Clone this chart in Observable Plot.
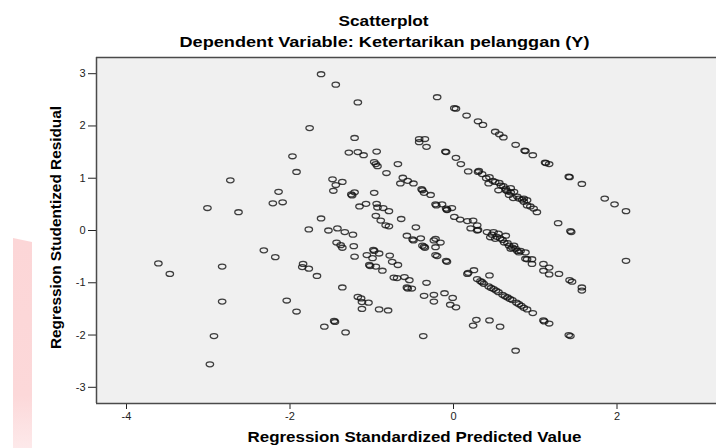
<!DOCTYPE html>
<html>
<head>
<meta charset="utf-8">
<script src="https://cdn.jsdelivr.net/npm/d3@7"></script>
<script src="https://cdn.jsdelivr.net/npm/@observablehq/plot@0.6"></script>
<style>
  html, body { margin: 0; padding: 0; background: #fff; overflow: hidden; }
  #wrap { position: relative; width: 716px; height: 448px; }
  #pink { position: absolute; left: 13px; top: 238px; width: 19px; height: 210px;
          background: linear-gradient(to bottom, #fcd6d7 0%, #fcd8d9 75%, #fde9ea 100%);
          clip-path: polygon(0 0, 100% 4px, 100% 100%, 0 100%); }
  #chart { position: absolute; left: 0; top: 0; }
</style>
</head>
<body>
<div id="wrap"><div id="pink"></div><div id="chart"></div></div>
<script>
const title = "Scatterplot";
const subtitle = "Dependent Variable: Ketertarikan pelanggan (Y)";
const xLabel = "Regression Standardized Predicted Value";
const yLabel = "Regression Studentized Residual";
const xTicks = [-4, -2, 0, 2];
const yTicks = [-3, -2, -1, 0, 1, 2, 3];
const xDomain = [-4.367, 3.217];
const yDomain = [-3.31, 3.31];

const predicted = [
 -3.61,-3.47,-3.01,-2.73,-2.63,-2.83,-2.83,-2.93,-2.98,-2.32,-2.18,-2.21,-2.09,-2.14,-1.97,-1.92,-1.76,-1.77,-1.84,-1.85,
 -1.77,-2.04,-1.92,-1.62,-1.44,-1.17,-0.20,0.01,0.03,0.16,0.30,0.36,0.51,0.56,0.61,0.76,-1.21,-1.28,-1.17,-1.10,
 -0.94,-0.97,-0.93,-0.95,-0.82,-0.68,-0.42,-0.42,-0.35,-0.33,-0.10,-0.09,0.03,0.09,0.18,0.31,0.30,0.35,0.44,0.43,
 0.56,0.61,0.66,0.73,0.80,-1.48,-1.44,-1.36,-1.47,-1.25,-1.24,-1.21,-0.97,-1.15,-1.07,-0.94,-0.93,-0.86,-0.79,-0.95,
 -0.89,-0.83,-0.79,-0.64,-0.46,-0.62,-0.65,-0.56,-0.49,-0.39,-0.38,-0.36,-0.28,-0.22,-0.21,-0.14,-0.09,-0.08,-0.02,0.01,
 0.08,0.17,0.24,0.29,0.30,0.41,0.49,-1.62,-1.53,-1.42,-1.33,-1.23,-0.57,-1.43,-1.38,-1.36,-1.22,-1.21,-1.67,-1.36,
 -1.17,-1.13,-1.12,-1.04,-1.12,-0.91,-0.80,-1.46,-1.45,-1.58,-1.32,-0.98,-0.97,-1.06,-0.99,-0.91,-0.78,-0.75,-0.68,-1.02,
 -1.03,-0.95,-0.87,-0.73,-0.69,-0.60,-0.54,-0.56,-0.57,-0.51,-0.33,-0.36,-0.24,-0.24,-0.11,-0.01,-0.04,0.03,-0.37,-0.49,
 -0.50,-0.40,-0.35,-0.36,-0.38,-0.24,-0.22,-0.16,-0.22,-0.22,-0.20,-0.09,-0.08,0.21,0.29,0.45,0.51,0.57,0.62,0.68,
 0.74,0.70,0.78,0.88,0.90,0.96,0.96,1.10,1.17,1.10,1.17,1.29,1.42,1.45,1.57,1.57,0.55,0.64,0.82,0.88,
 0.51,0.55,0.70,0.68,0.86,0.90,0.98,1.02,0.90,0.74,0.64,0.87,0.88,0.97,1.12,1.13,1.17,1.41,1.42,1.57,
 1.85,1.97,2.11,1.28,1.43,1.44,2.11,-0.08,0.17,0.18,0.25,0.44,0.29,0.33,0.37,0.43,0.49,0.55,0.60,0.66,
 0.72,0.77,0.83,0.90,0.97,1.10,1.11,1.17,1.41,1.43,0.28,0.24,0.44,0.57,0.76,0.70,0.86,0.47,0.53,0.60,
 0.66,0.72,0.76,0.80,0.35,0.46,0.52,0.63,0.69,0.80,0.86,0.40,0.48,0.58,0.64,0.78,0.84,0.94
];
const residual = [
 -0.63,-0.83,0.43,0.96,0.35,-0.69,-1.36,-2.02,-2.56,-0.38,-0.51,0.52,0.54,0.74,1.42,1.12,1.96,0.02,-0.64,-0.70,
 -0.73,-1.34,-1.55,2.99,2.79,2.45,2.55,2.34,2.33,2.20,2.09,2.02,1.89,1.84,1.78,1.64,1.77,1.49,1.50,1.44,
 1.51,1.31,1.23,1.27,1.10,1.27,1.75,1.69,1.75,1.60,1.51,1.50,1.39,1.27,1.13,1.14,1.12,1.08,1.02,0.90,
 0.91,0.85,0.75,0.62,0.61,0.98,0.87,0.93,0.76,0.69,0.67,0.73,0.72,0.46,0.51,0.51,0.44,0.43,0.37,0.28,
 0.19,0.10,0.08,0.22,0.06,1.01,0.90,0.95,0.90,0.79,0.77,0.72,0.68,0.50,0.48,0.50,0.42,0.40,0.43,0.26,
 0.21,0.18,0.19,0.10,0.01,-0.03,-0.03,0.23,0.00,0.04,-0.03,-0.08,-0.10,-0.23,-0.28,-0.33,-0.30,-0.50,-0.87,-1.09,
 -1.27,-1.30,-1.37,-1.38,-1.50,-1.51,-1.53,-1.73,-1.75,-1.84,-1.95,-0.37,-0.39,-0.47,-0.53,-0.44,-0.48,-0.60,-0.66,-0.68,
 -0.66,-0.69,-0.77,-0.90,-0.91,-0.89,-0.95,-1.11,-1.09,-1.11,-1.00,-1.25,-1.23,-1.36,-1.20,-1.29,-1.42,-1.47,-2.02,-0.19,
 -0.17,-0.15,-0.33,-0.31,-0.29,-0.19,-0.16,-0.23,-0.32,-0.47,-0.49,-0.58,-0.60,0.04,0.00,-0.13,-0.16,-0.15,-0.23,-0.29,
 -0.29,-0.35,-0.39,-0.42,-0.55,-0.55,-0.64,-0.64,-0.71,-0.77,-0.84,-0.83,-0.95,-0.98,-1.09,-1.15,-0.06,-0.10,-0.39,-0.54,
 0.93,0.77,0.81,0.68,0.55,0.48,0.42,0.35,0.58,0.74,0.77,1.53,1.52,1.44,1.30,1.29,1.27,1.03,1.02,0.89,
 0.61,0.50,0.37,0.14,-0.01,-0.03,-0.58,0.39,-0.83,-0.81,-0.76,-0.86,-0.93,-0.97,-1.02,-1.07,-1.12,-1.18,-1.23,-1.28,
 -1.33,-1.38,-1.44,-1.51,-1.58,-1.72,-1.74,-1.78,-2.00,-2.02,-1.71,-1.82,-1.72,-1.84,-2.30,0.73,0.61,-0.08,-0.12,-0.18,
 -0.24,-0.33,-0.35,-0.42,-0.99,-1.10,-1.15,-1.26,-1.31,-1.41,-1.48,1.00,0.95,0.86,0.80,0.65,0.59,0.46
];

const points = predicted.map((x, i) => ({x, y: residual[i]}));

// open, slightly flattened circle like the SPSS marker
const ellipse = {
  draw(ctx, size) {
    const r = Math.sqrt(size / Math.PI);
    const rx = r * 1.2, ry = r * 0.8, k = 0.5523;
    ctx.moveTo(rx, 0);
    ctx.bezierCurveTo(rx, ry * k, rx * k, ry, 0, ry);
    ctx.bezierCurveTo(-rx * k, ry, -rx, ry * k, -rx, 0);
    ctx.bezierCurveTo(-rx, -ry * k, -rx * k, -ry, 0, -ry);
    ctx.bezierCurveTo(rx * k, -ry, rx, -ry * k, rx, 0);
    ctx.closePath();
  }
};

const font = "'Liberation Sans', Arial, sans-serif";
const fmt = d => String(d);

const chart = Plot.plot({
  width: 716,
  height: 448,
  marginLeft: 96,
  marginRight: 0,
  marginTop: 57,
  marginBottom: 45,
  style: {fontFamily: font, fontSize: "11px", color: "#222", background: "transparent"},
  x: {domain: xDomain, ticks: xTicks, tickFormat: fmt, tickSize: 6, tickPadding: 3, label: null},
  y: {domain: yDomain, ticks: yTicks, tickFormat: fmt, tickSize: 8, tickPadding: 3, label: null},
  marks: [
    Plot.frame({fill: "#f0f0f0", stroke: "none"}),
    Plot.ruleY([yDomain[1]], {stroke: "#4a4a4a", strokeWidth: 1.5}),
    Plot.ruleY([yDomain[0]], {stroke: "#4a4a4a", strokeWidth: 1.5}),
    Plot.ruleX([xDomain[0]], {stroke: "#4a4a4a", strokeWidth: 1.5}),
    Plot.dot(points, {x: "x", y: "y", symbol: ellipse, r: 3.1, stroke: "#111", strokeOpacity: 0.8, strokeWidth: 1.3, fill: "none"}),
    Plot.text([title], {frameAnchor: "top", dy: -36, dx: -23, lineAnchor: "middle", fontWeight: "bold", fontSize: 15, fill: "#000", fontFamily: font}),
    Plot.text([subtitle], {frameAnchor: "top", dy: -15, dx: -22, lineAnchor: "middle", fontWeight: "bold", fontSize: 15, fill: "#000", fontFamily: font}),
    Plot.text([xLabel], {frameAnchor: "bottom", dy: 34, dx: 8, lineAnchor: "middle", fontWeight: "bold", fontSize: 15, fill: "#000", fontFamily: font}),
    Plot.text([yLabel], {frameAnchor: "left", dx: -40, dy: -3, rotate: -90, textAnchor: "middle", lineAnchor: "middle", fontWeight: "bold", fontSize: 15, fill: "#000", fontFamily: font})
  ]
});

// the reference image is stretched horizontally: widen the horizontal texts to the measured widths
const widths = new Map([[title, 90], [subtitle, 410], [xLabel, 334], [yLabel, 243]]);
chart.querySelectorAll("text").forEach(t => {
  const w = widths.get(t.textContent);
  if (w) { t.setAttribute("textLength", w); t.setAttribute("lengthAdjust", "spacingAndGlyphs"); }
});
document.getElementById("chart").appendChild(chart);
</script>
</body>
</html>
